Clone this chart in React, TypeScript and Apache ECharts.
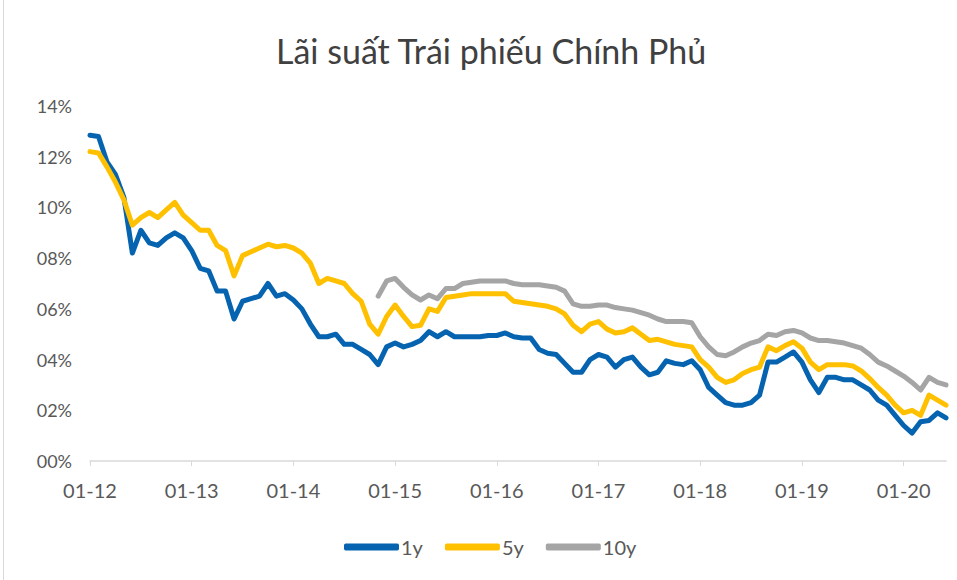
import React, { useEffect, useRef } from "react";
import * as echarts from "echarts";

// Monthly observations, Jan 2012 .. Jun 2020 (102 points)
const categories: string[] = Array.from({ length: 102 }, (_, i) => {
  const mm = String((i % 12) + 1).padStart(2, "0");
  const yy = String(12 + Math.floor(i / 12)).padStart(2, "0");
  return `${mm}-${yy}`;
});

const y1: number[] = [
  12.85, 12.8, 11.8, 11.3, 10.4, 8.2, 9.1, 8.6, 8.5, 8.8, 9.0, 8.8,
  8.3, 7.6, 7.5, 6.7, 6.7, 5.6, 6.3, 6.4, 6.5, 7.0, 6.5, 6.6,
  6.35, 6.0, 5.4, 4.9, 4.9, 5.0, 4.6, 4.6, 4.4, 4.2, 3.8, 4.5,
  4.65, 4.5, 4.6, 4.75, 5.1, 4.9, 5.1, 4.9, 4.9, 4.9, 4.9, 4.95,
  4.95, 5.05, 4.9, 4.85, 4.85, 4.4, 4.25, 4.2, 3.85, 3.5, 3.5, 4.0,
  4.2, 4.1, 3.7, 4.0, 4.1, 3.7, 3.4, 3.5, 3.95, 3.85, 3.8, 3.95,
  3.6, 2.9, 2.6, 2.3, 2.2, 2.2, 2.3, 2.6, 3.9, 3.9, 4.1, 4.3,
  3.9, 3.2, 2.7, 3.3, 3.3, 3.2, 3.2, 3.0, 2.8, 2.4, 2.2, 1.8,
  1.4, 1.1, 1.55, 1.6, 1.9, 1.7,
];

const y5: number[] = [
  12.2, 12.15, 11.6, 11.0, 10.3, 9.3, 9.6, 9.8, 9.6, 9.9, 10.2, 9.7,
  9.4, 9.1, 9.1, 8.5, 8.3, 7.3, 8.1, 8.25, 8.4, 8.55, 8.45, 8.5,
  8.4, 8.2, 7.8, 7.0, 7.2, 7.1, 7.0, 6.6, 6.3, 5.4, 5.0, 5.7,
  6.15, 5.7, 5.3, 5.35, 6.0, 5.9, 6.45, 6.5, 6.55, 6.6, 6.6, 6.6,
  6.6, 6.6, 6.3, 6.25, 6.2, 6.15, 6.1, 6.0, 5.8, 5.35, 5.1, 5.4,
  5.5, 5.2, 5.05, 5.1, 5.25, 5.0, 4.75, 4.8, 4.7, 4.6, 4.55, 4.5,
  4.0, 3.7, 3.3, 3.1, 3.2, 3.45, 3.6, 3.7, 4.5, 4.35, 4.55, 4.7,
  4.45, 3.9, 3.6, 3.8, 3.8, 3.8, 3.75, 3.55, 3.25, 2.9, 2.6, 2.2,
  1.9, 2.0, 1.8, 2.6, 2.4, 2.2,
];

const y10: (number | null)[] = [
  null, null, null, null, null, null, null, null, null, null, null, null,
  null, null, null, null, null, null, null, null, null, null, null, null,
  null, null, null, null, null, null, null, null, null, null, 6.5, 7.1,
  7.2, 6.85, 6.55, 6.35, 6.55, 6.4, 6.8, 6.8, 7.0, 7.05, 7.1, 7.1,
  7.1, 7.1, 7.0, 6.95, 6.95, 6.95, 6.9, 6.85, 6.7, 6.2, 6.1, 6.1,
  6.15, 6.15, 6.05, 6.0, 5.95, 5.85, 5.75, 5.6, 5.5, 5.5, 5.5, 5.45,
  4.9, 4.5, 4.2, 4.15, 4.3, 4.5, 4.65, 4.75, 5.0, 4.95, 5.1, 5.15,
  5.05, 4.85, 4.75, 4.75, 4.7, 4.65, 4.55, 4.45, 4.2, 3.9, 3.75, 3.55,
  3.35, 3.1, 2.8, 3.3, 3.1, 3.0,
];

const seriesNames = ["1y", "5y", "10y"];
const seriesColors = ["#0563b0", "#ffc000", "#a5a5a5"];
const titleText = "Lãi suất Trái phiếu Chính Phủ";

const FONT = "Lato, 'Liberation Sans', sans-serif";

export default function App() {
  const ref = useRef<HTMLDivElement>(null);

  useEffect(() => {
    if (!ref.current) return;
    const chart = echarts.init(ref.current, undefined, { renderer: "svg" });
    const data = [y1, y5, y10];
    chart.setOption({
      animation: false,
      backgroundColor: "#ffffff",
      title: {
        text: titleText,
        left: 271,
        top: 28,
        textStyle: {
          fontFamily: FONT,
          fontSize: 34,
          fontWeight: "normal",
          color: "#404040",
        },
      },
      legend: {
        bottom: 18,
        left: 339,
        icon: "roundRect",
        itemWidth: 55,
        itemHeight: 7,
        itemGap: 22,
        data: seriesNames,
        textStyle: { fontFamily: FONT, fontSize: 20, color: "#595959", padding: [0, 0, 0, -3] },
      },
      grid: { left: 90, right: 11, top: 106, bottom: 119, containLabel: false },
      xAxis: {
        type: "category",
        data: categories,
        boundaryGap: false,
        axisLine: { lineStyle: { color: "#d9d9d9", width: 1.5 } },
        axisTick: { show: true, interval: 11, length: 5, lineStyle: { color: "#d9d9d9" } },
        axisLabel: {
          interval: 11,
          margin: 19,
          fontFamily: FONT,
          fontSize: 20,
          color: "#595959",
        },
        splitLine: { show: false },
      },
      yAxis: {
        type: "value",
        min: 0,
        max: 14,
        interval: 2,
        axisLine: { show: false },
        axisTick: { show: false },
        splitLine: { show: false },
        axisLabel: {
          margin: 18,
          fontFamily: FONT,
          fontSize: 18,
          color: "#595959",
          formatter: (v: number) => (v < 10 ? "0" + v : String(v)) + "%",
        },
      },
      graphic: [
        {
          type: "line",
          shape: { x1: 3.5, y1: 0, x2: 3.5, y2: 580 },
          style: { stroke: "#d9d9d9", lineWidth: 1 },
        },
      ],
      series: seriesNames.map((name, i) => ({
        name,
        type: "line",
        data: data[i],
        symbol: "none",
        showSymbol: false,
        connectNulls: false,
        lineStyle: { color: seriesColors[i], width: 5, join: "round", cap: "round" },
        itemStyle: { color: seriesColors[i] },
      })),
    });
    return () => chart.dispose();
  }, []);

  return (
    <div
      ref={ref}
      style={{ position: "fixed", left: 0, top: 0, width: 957, height: 580 }}
    />
  );
}
